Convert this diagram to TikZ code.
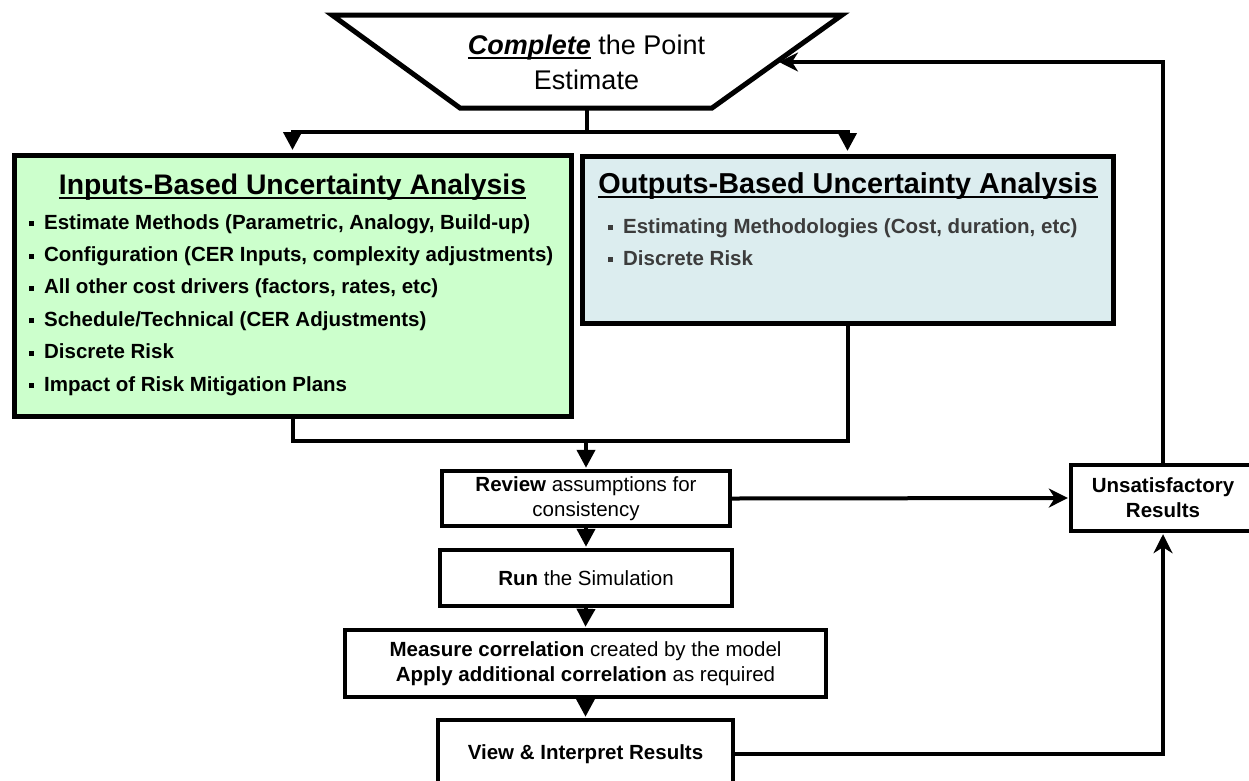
\documentclass[tikz,border=0pt]{standalone}
\usepackage{fontspec}
\setmainfont{Liberation Sans}
\usetikzlibrary{arrows.meta,positioning}
\definecolor{ingreen}{HTML}{CCFFCC}
\definecolor{outblue}{HTML}{DCEDEF}
\definecolor{outgray}{HTML}{3C3C3C}
\newcommand{\uword}[1]{\setbox0\hbox{#1}\rlap{\rule[-0.17em]{\wd0}{0.07em}}\box0\relax}
\newcommand{\sqb}{\rule[0.14em]{0.24em}{0.24em}\hspace{10pt}}

\begin{document}
\begin{tikzpicture}[x=1pt,y=-1pt,
    txt/.style={font=\fontsize{20.5}{25}\selectfont},
    head/.style={anchor=base,inner sep=0pt,font=\bfseries\fontsize{28.3}{34}\selectfont},
    item/.style={anchor=base west,inner sep=0pt,font=\bfseries\fontsize{20.5}{25}\selectfont},
    bigbox/.style={draw,line width=5pt,inner sep=0pt},
    stepbox/.style={draw,line width=3.2pt,inner sep=0pt,align=center,txt},
    link/.style={line width=4pt},
    flow/.style={link,-{Triangle[length=18pt,width=18pt]}},
    back/.style={link,-{Stealth[length=19pt,width=19pt,inset=6pt]}}]
  \useasboundingbox (0,0) rectangle (1249,780);
  \draw[line width=5pt,line join=miter] (332,15) -- (842,15) -- (712,108) -- (460,108) -- cycle;
  \node[align=center,inner sep=0pt,font=\fontsize{27}{35}\selectfont] (est) at (586.5,62.6)
    {\uword{\textbf{\textit{Complete}}} the Point\\Estimate};
  \coordinate (estbot) at (587,108);
  \coordinate (estedge) at (779,62);

  \node[bigbox,fill=ingreen,minimum width=557,minimum height=261] (inputs) at (292.5,285.5) {};
  \node[head] (inhead) at (292.5,194) {\uword{Inputs-Based Uncertainty Analysis}};
  \node[item] (in1) at (29,229) {\sqb Estimate Methods (Parametric, Analogy, Build-up)};
  \node[item] (in2) at (29,261.4) {\sqb Configuration (CER Inputs, complexity adjustments)};
  \node[item] (in3) at (29,293.8) {\sqb All other cost drivers (factors, rates, etc)};
  \node[item] (in4) at (29,326.2) {\sqb Schedule/Technical (CER Adjustments)};
  \node[item] (in5) at (29,358.6) {\sqb Discrete Risk};
  \node[item] (in6) at (29,391) {\sqb Impact of Risk Mitigation Plans};

  \node[bigbox,fill=outblue,minimum width=531,minimum height=167] (outputs) at (847.5,239.5) {};
  \node[head,font=\bfseries\fontsize{28.8}{34}\selectfont] (outhead) at (848,193) {\uword{Outputs-Based Uncertainty Analysis}};
  \node[item,text=outgray] (out1) at (608,233) {\sqb Estimating Methodologies (Cost, duration, etc)};
  \node[item,text=outgray] (out2) at (608,265) {\sqb Discrete Risk};

  \node[stepbox,minimum width=288,minimum height=55] (review) at (586,498.5)
    {\textbf{Review} assumptions for\\consistency};
  \node[stepbox,minimum width=292,minimum height=56] (run) at (586,578)
    {\textbf{Run} the Simulation};
  \node[stepbox,minimum width=481,minimum height=67] (measure) at (585.5,663.5)
    {\textbf{Measure correlation} created by the model\\\textbf{Apply additional correlation} as required};
  \node[stepbox,minimum width=295,minimum height=68] (view) at (585.5,754)
    {\textbf{View \& Interpret Results}};
  \node[stepbox,minimum width=184,minimum height=66,font=\bfseries\fontsize{20.5}{25}\selectfont] (unsat) at (1163,498)
    {Unsatisfactory\\Results};
  \coordinate (join) at (586,441);

  \draw[flow] (estbot) -- ++(0,24) -| ([yshift=2.5pt]inputs.north);
  \draw[flow] (estbot) -- ++(0,24) -| ([yshift=2.5pt]outputs.north);
  \draw[link] (inputs.south) |- (join);
  \draw[link] (outputs.south) |- (join);
  \draw[flow] (join) -- ([yshift=1.6pt]review.north);
  \draw[flow] (review.south) -- ([yshift=1.6pt]run.north);
  \draw[flow] (run.south) -- ([yshift=1.6pt]measure.north);
  \draw[flow] (measure.south) -- ([yshift=1.6pt]view.north);
  \draw[back] (review.east) -- ([xshift=-1.6pt]unsat.west);
  \draw[back] (view.east) -| ([yshift=-1.6pt]unsat.south);
  \draw[back] (unsat.north) |- (estedge);
\end{tikzpicture}
\end{document}
